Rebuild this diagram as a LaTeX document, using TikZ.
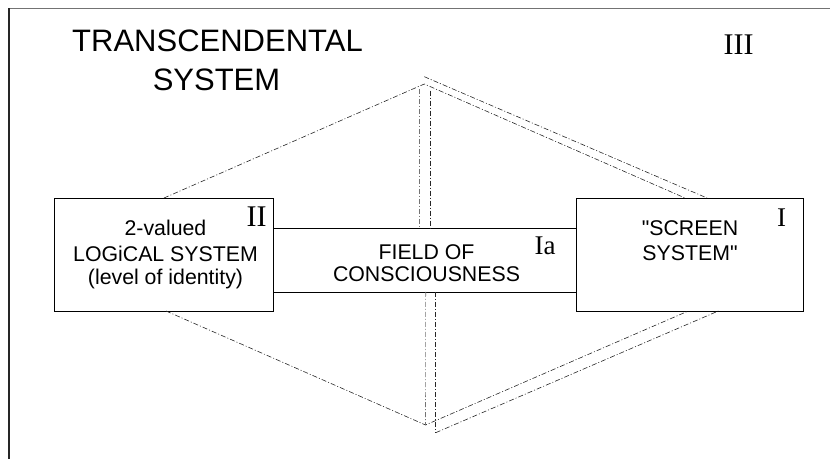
\documentclass[tikz,border=0pt]{standalone}
\usepackage{fontspec}
\newfontfamily\arialf{Liberation Sans}
\newfontfamily\romanfont{Liberation Serif}
\begin{document}
\begin{tikzpicture}[x=1bp,y=-1bp,
  boxstyle/.style={draw=black, line width=0.9bp, inner sep=0pt, outer sep=0pt, rectangle},
  dd/.style={line width=0.6bp, draw=black!85, dash pattern=on 5bp off 2bp on 1bp off 2bp},
  ddlight/.style={dd, draw=black!55},
  lbl/.style={anchor=base, inner sep=0pt, font=\arialf\fontsize{21.3bp}{24bp}\selectfont},
  ttl/.style={anchor=base, inner sep=0pt, font=\arialf\fontsize{31bp}{34bp}\selectfont},
  rom/.style={anchor=base, inner sep=0pt, font=\romanfont\fontsize{#1}{#1}\selectfont}]
\useasboundingbox (0,0) rectangle (830,459);
% frame
\draw[line width=1.3bp, draw=black!55] (830,8.5) -- (9,8.5);
\draw[line width=1.3bp, draw=black!85] (9,8.5) -- (9,459);
% boxes
\node[boxstyle, minimum width=302.5bp, minimum height=63.7bp] (mid) at (424.75,260.15) {};
\node[boxstyle, minimum width=219bp, minimum height=113bp] (left) at (164,254.5) {};
\node[boxstyle, minimum width=227bp, minimum height=113bp] (right) at (689.5,254.5) {};
% dash-dot construction points
\coordinate (lt) at (164,198);
\coordinate (topA) at (424.3,84);
\coordinate (rtA) at (685,198);
\coordinate (topB) at (424.3,76.7);
\coordinate (rtB) at (707,198);
\coordinate (lb) at (166,311);
\coordinate (botA) at (425.5,425);
\coordinate (rbA) at (688.3,311);
\coordinate (botB) at (435.7,432.7);
\coordinate (rbB) at (718.3,311);
\coordinate (v1t) at (419.3,89);
\coordinate (v1b) at (419.3,228.3);
\coordinate (v2t) at (430.7,90.7);
\coordinate (v2b) at (430.7,228.3);
\coordinate (v3t) at (425.7,292);
\coordinate (v4t) at (435.7,292);
\draw[dd] (lt) -- (topA) -- (rtA);
\draw[dd] (topB) -- (rtB);
\draw[dd] (lb) -- (botA) -- (rbA);
\draw[dd] (botB) -- (rbB);
\draw[ddlight] (v1t) -- (v1b);
\draw[dd] (v2t) -- (v2b);
\draw[ddlight] (v3t) -- (botA);
\draw[dd] (v4t) -- (botB);
% texts
\node[ttl] (t1) at (217.5,52) {TRANSCENDENTAL};
\node[ttl] (t2) at (216.5,90.5) {SYSTEM};
\node[rom=30bp] (r3) at (738.5,55) {III};
\node[rom=30bp] (r2) at (256.5,226.7) {II};
\node[rom=27bp] (r1) at (781.5,227) {I};
\node[rom=27bp] (r1a) at (545,255) {Ia};
\node[lbl] (l1) at (165.5,236) {2-valued};
\node[lbl] (l2) at (165.5,261.7) {LOGiCAL SYSTEM};
\node[lbl] (l3) at (165.5,285) {(level of identity)};
\node[lbl] (m1) at (426.5,260) {FIELD OF};
\node[lbl] (m2) at (426.5,282) {CONSCIOUSNESS};
\node[lbl] (s1) at (690,236) {"SCREEN};
\node[lbl] (s2) at (690,260.7) {SYSTEM"};
\end{tikzpicture}
\end{document}
